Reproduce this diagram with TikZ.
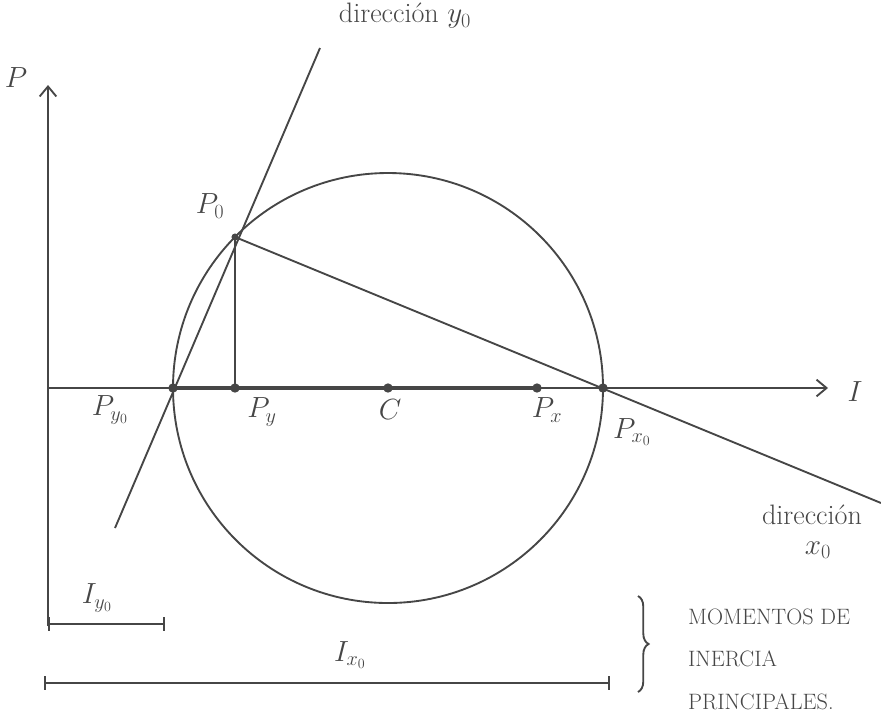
\documentclass[tikz,border=0pt]{standalone}
\usepackage{amsmath}
\usepackage{tikz}
\usetikzlibrary{arrows.meta, decorations.pathreplacing}
\definecolor{pencil}{RGB}{70,70,70}

\begin{document}
\begin{tikzpicture}[x=0.03cm, y=-0.03cm,
    line/.style={draw=pencil, line width=1.6pt},
    axis/.style={line, -{Straight Barb[length=3mm, width=5mm]}},
    dim/.style={line, {Bar[width=4mm]}-{Bar[width=4mm]}},
    dot/.style={circle, fill=pencil, inner sep=0pt, minimum size=8pt},
    lbl/.style={font=\fontsize{24}{28}\selectfont, text=pencil, inner sep=1pt},
    caps/.style={font=\fontsize{19}{36}\selectfont, text=pencil, align=left}]
    \useasboundingbox (0,0) rectangle (881,718);
    % points of the circle
    \coordinate (O) at (48,388);
    \coordinate (Ptop) at (48,85);
    \coordinate (Pbot) at (48,626);
    \coordinate (Iend) at (828,388);
    \coordinate (C) at (388,388);
    \coordinate (Py0) at (173,388);
    \coordinate (Px0) at (603,388);
    \coordinate (Py) at (235,388);
    \coordinate (Px) at (537,388);
    \coordinate (P0) at (235,237);
    \coordinate (dyTop) at (320,48);
    \coordinate (dyBot) at (115,528);
    \coordinate (dxEnd) at (881,503);
    % axes
    \draw[axis] (Pbot) -- (Ptop);
    \draw[axis] (O) -- (Iend);
    \draw[line, line width=3.2pt] (Py0) -- (Px);
    \draw[line] (C) circle[radius=215];
    % directions
    \draw[line] (dyBot) -- (dyTop);
    \draw[line] (P0) -- (dxEnd);
    \draw[line] (P0) -- (Py);
    \foreach \p in {Py0, Py, C, Px, Px0}
      \node[dot] at (\p) {};
    \node[dot, minimum size=6pt] at (P0) {};
    % labels
    \node[lbl] (lP) at (16,78) {$P$};
    \node[lbl] (lI) at (855,392) {$I$};
    \node[lbl] (lP0) at (210,206) {$P_0$};
    \node[lbl] (lPy0) at (110,410) {$P_{y_0}$};
    \node[lbl] (lPy) at (262,412) {$P_y$};
    \node[lbl] (lC) at (390,410) {$C$};
    \node[lbl] (lPx) at (547,410) {$P_x$};
    \node[lbl] (lPx0) at (632,432) {$P_{x_0}$};
    \node[lbl] (ldy) at (405,16) {direcci\'on $y_0$};
    \node[lbl] (ldx) at (812,515) {direcci\'on};
    \node[lbl] (ldx0) at (818,550) {$x_0$};
    % principal moments
    \coordinate (Iy0a) at (48,624);
    \coordinate (Iy0b) at (165,624);
    \coordinate (Ix0a) at (44,683);
    \coordinate (Ix0b) at (610,683);
    \draw[dim] (Iy0a) -- (Iy0b);
    \draw[dim] (Ix0a) -- (Ix0b);
    \node[lbl] (lIy0) at (97,598) {$I_{y_0}$};
    \node[lbl] (lIx0) at (350,655) {$I_{x_0}$};
    \draw[line, decorate, decoration={brace, amplitude=9pt}] (638,596) -- (638,692);
    \node[caps, anchor=north west] (mom) at (684,605) {MOMENTOS DE\\INERCIA\\PRINCIPALES.};
\end{tikzpicture}
\end{document}
